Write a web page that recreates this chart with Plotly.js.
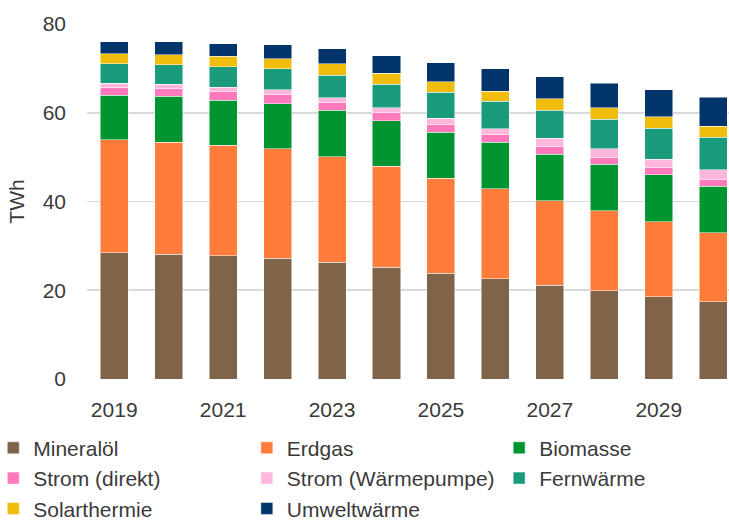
<!DOCTYPE html>
<html>
<head>
<meta charset="utf-8">
<script src="https://cdn.plot.ly/plotly-3.0.1.min.js"></script>
<style>
  html, body { margin: 0; padding: 0; background: #fff; }
  #myDiv { width: 729px; height: 521px; }
</style>
</head>
<body>
<div id="myDiv"></div>
<script>
// ---------------------------- data (TWh) ----------------------------
var years = [2019, 2020, 2021, 2022, 2023, 2024, 2025, 2026, 2027, 2028, 2029, 2030];

var mineraloel   = [28.4, 28.1, 27.8, 27.2, 26.3, 25.2, 23.8, 22.6, 21.1, 19.9, 18.5, 17.4];
var erdgas       = [25.5, 25.2, 24.9, 24.7, 23.8, 22.7, 21.4, 20.3, 19.1, 18.0, 16.9, 15.6];
var biomasse     = [10.1, 10.4, 10.1, 10.1, 10.5, 10.3, 10.4, 10.4, 10.5, 10.5, 10.6, 10.4];
var stromDirekt  = [1.8, 1.8, 2.1, 2.1, 1.8, 1.8, 1.8, 1.8, 1.7, 1.5, 1.6, 1.5];
var stromWP      = [0.9, 0.9, 0.9, 1.1, 1.0, 1.1, 1.4, 1.3, 1.8, 2.0, 1.9, 2.3];
var fernwaerme   = [4.3, 4.4, 4.6, 4.7, 5.0, 5.3, 5.8, 6.2, 6.4, 6.6, 7.0, 7.3];
var solarthermie = [2.3, 2.3, 2.3, 2.3, 2.6, 2.5, 2.4, 2.3, 2.5, 2.6, 2.6, 2.5];
var umweltwaerme = [2.7, 2.9, 2.9, 3.1, 3.4, 3.9, 4.3, 5.0, 5.0, 5.6, 6.1, 6.5];

var yTicks = [0, 20, 40, 60, 80];

// ---------------------------- traces ----------------------------
var txtFont = {family: 'Liberation Sans, Arial, sans-serif', size: 21, color: '#3a3a3a'};

function mkBar(name, vals, color, legendId) {
  return {
    type: 'bar',
    name: name,
    x: years,
    y: vals,
    legend: legendId,
    legendgroup: name,
    marker: {color: color, line: {color: 'rgba(255,255,255,0.7)', width: 0.7}},
    hoverinfo: 'x+y+name'
  };
}

var data = [
  mkBar('Mineralöl', mineraloel, '#7f6449', 'legend'),
  mkBar('Erdgas', erdgas, '#ff7c3b', 'legend2'),
  mkBar('Biomasse', biomasse, '#009530', 'legend3'),
  mkBar('Strom (direkt)', stromDirekt, '#ff7abd', 'legend'),
  mkBar('Strom (Wärmepumpe)', stromWP, '#ffb8dc', 'legend2'),
  mkBar('Fernwärme', fernwaerme, '#1a9b7b', 'legend3'),
  mkBar('Solarthermie', solarthermie, '#f1bd0c', 'legend'),
  mkBar('Umweltwärme', umweltwaerme, '#00346a', 'legend2')
];

function mkLegend(x) {
  return {
    x: x, xanchor: 'left',
    y: -0.137, yanchor: 'top',
    orientation: 'v',
    traceorder: 'normal',
    tracegroupgap: 1,
    itemwidth: 30,
    font: txtFont,
    bgcolor: 'rgba(0,0,0,0)',
    borderwidth: 0
  };
}

var layout = {
  width: 729,
  height: 521,
  margin: {l: 87, r: 0, t: 24, b: 142, autoexpand: false},
  paper_bgcolor: '#fff',
  plot_bgcolor: '#fff',
  barmode: 'stack',
  bargap: 0.485,
  font: txtFont,
  showlegend: true,
  legend: mkLegend(-0.146),
  legend2: mkLegend(0.249),
  legend3: mkLegend(0.642),
  xaxis: {
    type: 'linear',
    range: [2018.5, 2030.29],
    tick0: 2019,
    dtick: 2,
    showgrid: false,
    zeroline: false,
    showline: false,
    ticks: '',
    ticklabelstandoff: 16,
    tickfont: txtFont
  },
  yaxis: {
    range: [0, 80],
    tickvals: yTicks,
    showgrid: true,
    gridcolor: '#d9d9d9',
    gridwidth: 1.8,
    zeroline: false,
    showline: false,
    ticks: '',
    ticklabelstandoff: 20,
    tickfont: txtFont,
    title: {text: 'TWh', font: txtFont, standoff: 12}
  }
};

Plotly.newPlot('myDiv', data, layout, {displayModeBar: false, staticPlot: true});
</script>
</body>
</html>
